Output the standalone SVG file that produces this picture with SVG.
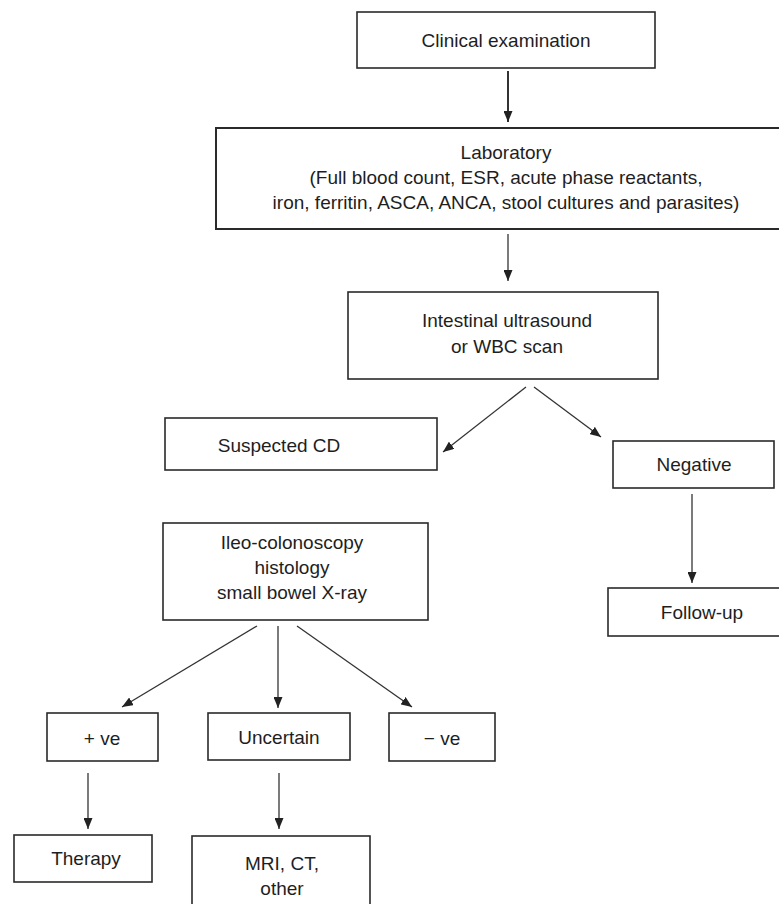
<svg xmlns="http://www.w3.org/2000/svg" width="779" height="904" viewBox="0 0 779 904">
<defs>
<marker id="ah" markerUnits="userSpaceOnUse" markerWidth="11" markerHeight="9" viewBox="0 0 11 9" refX="11" refY="4.5" orient="auto">
<path d="M0,0 L11,4.5 L0,9 Z" fill="#222"/>
</marker>
<style>
.box{fill:#fff;stroke:#2a2a2a;stroke-width:1.6}
.t{font-family:"Liberation Sans",Arial,sans-serif;font-size:19px;fill:#1e1e1e;text-anchor:middle}
.c{fill:none;stroke:#333;stroke-width:1.3;marker-end:url(#ah)}
</style>
</defs>
<rect width="779" height="904" fill="#fff"/>
<g id="connectors">
<line class="c" x1="508" y1="71" x2="508" y2="122" style="stroke-width:2"/>
<line class="c" x1="508" y1="234" x2="508" y2="281"/>
<line class="c" x1="526" y1="387" x2="443" y2="452"/>
<line class="c" x1="534" y1="387" x2="601" y2="437"/>
<line class="c" x1="692" y1="494" x2="692" y2="583"/>
<line class="c" x1="257" y1="626" x2="122" y2="707"/>
<line class="c" x1="278" y1="626" x2="278" y2="708"/>
<line class="c" x1="297" y1="626" x2="412" y2="707"/>
<line class="c" x1="88" y1="773" x2="88" y2="829"/>
<line class="c" x1="279" y1="773" x2="279" y2="829"/>
</g>
<g id="clinical">
<rect class="box" x="357" y="12" width="298" height="56"/>
<text class="t" x="506" y="47">Clinical examination</text>
</g>
<g id="laboratory">
<rect class="box" x="216" y="128" width="570" height="101" style="stroke-width:2"/>
<text class="t" x="506" y="159">Laboratory</text>
<text class="t" x="506" y="184">(Full blood count, ESR, acute phase reactants,</text>
<text class="t" x="506" y="209">iron, ferritin, ASCA, ANCA, stool cultures and parasites)</text>
</g>
<g id="ultrasound">
<rect class="box" x="348" y="292" width="310" height="87"/>
<text class="t" x="507" y="327">Intestinal ultrasound</text>
<text class="t" x="507" y="353">or WBC scan</text>
</g>
<g id="suspected">
<rect class="box" x="165" y="418" width="272" height="52"/>
<text class="t" x="279" y="452">Suspected CD</text>
</g>
<g id="negative">
<rect class="box" x="613" y="441" width="161" height="47"/>
<text class="t" x="694" y="471">Negative</text>
</g>
<g id="followup">
<rect class="box" x="608" y="588" width="180" height="48"/>
<text class="t" x="702" y="619">Follow-up</text>
</g>
<g id="ileo">
<rect class="box" x="163" y="523" width="265" height="97"/>
<text class="t" x="292" y="549">Ileo-colonoscopy</text>
<text class="t" x="292" y="574">histology</text>
<text class="t" x="292" y="599">small bowel X-ray</text>
</g>
<g id="positive">
<rect class="box" x="47" y="713" width="111" height="48"/>
<text class="t" x="102" y="745">+ ve</text>
</g>
<g id="uncertain">
<rect class="box" x="208" y="713" width="142" height="47"/>
<text class="t" x="279" y="744">Uncertain</text>
</g>
<g id="minus">
<rect class="box" x="389" y="713" width="106" height="48"/>
<text class="t" x="442" y="745">− ve</text>
</g>
<g id="therapy">
<rect class="box" x="14" y="835" width="138" height="47"/>
<text class="t" x="86" y="865">Therapy</text>
</g>
<g id="mri">
<rect class="box" x="192" y="836" width="178" height="80"/>
<text class="t" x="282" y="870">MRI, CT,</text>
<text class="t" x="282" y="895">other</text>
</g>
</svg>
